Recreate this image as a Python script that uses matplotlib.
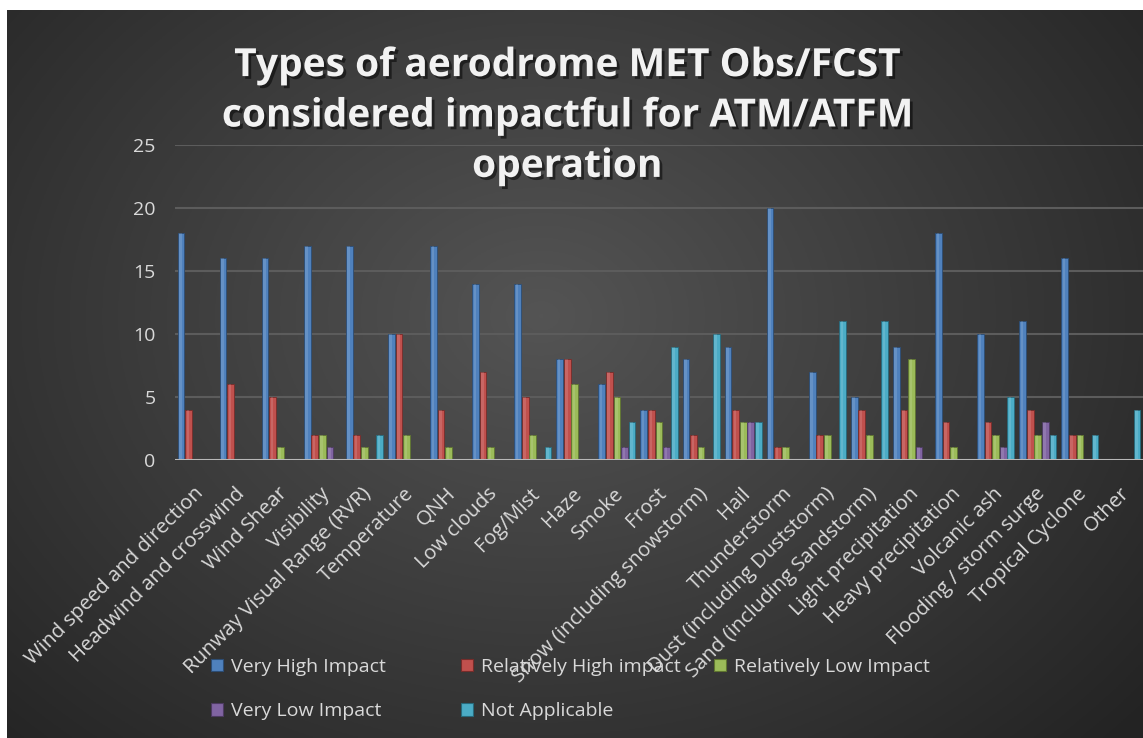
import numpy as np
import matplotlib
matplotlib.use("Agg")
import matplotlib.pyplot as plt
import matplotlib.patheffects as pe
import matplotlib.transforms as mtransforms
from matplotlib.patches import Patch

plt.rcParams['font.family'] = ['Open Sans', 'DejaVu Sans']

categories = ["Wind speed and direction", "Headwind and crosswind", "Wind Shear", "Visibility",
              "Runway Visual Range (RVR)", "Temperature", "QNH", "Low clouds", "Fog/Mist", "Haze",
              "Smoke", "Frost", "Snow (including snowstorm)", "Hail", "Thunderstorm",
              "Dust (including Duststorm)", "Sand (including Sandstorm)", "Light precipitation",
              "Heavy precipitation", "Volcanic ash", "Flooding / storm surge", "Tropical Cyclone", "Other"]

very_high = [18, 16, 16, 17, 17, 10, 17, 14, 14, 8, 6, 4, 8, 9, 20, 7, 5, 9, 18, 10, 11, 16, 0]
rel_high = [4, 6, 5, 2, 2, 10, 4, 7, 5, 8, 7, 4, 2, 4, 1, 2, 4, 4, 3, 3, 4, 2, 0]
rel_low = [0, 0, 1, 2, 1, 2, 1, 1, 2, 6, 5, 3, 1, 3, 1, 2, 2, 8, 1, 2, 2, 2, 0]
very_low = [0, 0, 0, 1, 0, 0, 0, 0, 0, 0, 1, 1, 0, 3, 0, 0, 0, 1, 0, 1, 3, 0, 0]
not_app = [0, 0, 0, 0, 2, 0, 0, 0, 1, 0, 3, 9, 10, 3, 0, 11, 11, 0, 0, 5, 2, 2, 4]

series_names = ["Very High Impact", "Relatively High impact", "Relatively Low Impact",
                "Very Low Impact", "Not Applicable"]
series_vals = [very_high, rel_high, rel_low, very_low, not_app]
colors = ["#4f81bd", "#c0504d", "#9bbb59", "#8064a2", "#4bacc6"]
edges = ["#2c4d75", "#772c2a", "#5f7530", "#4d3b62", "#276a7c"]

W, H = 1143, 738
fig = plt.figure(figsize=(W / 100, H / 100), dpi=100)
fig.patch.set_facecolor("white")

# dark radial background, white strip on top and left like the screenshot
bg = fig.add_axes([7 / W, 0, 1 - 7 / W, 1 - 10 / H])
yy, xx = np.mgrid[0:1:300j, 0:1:460j]
r = np.sqrt(((xx - 0.47) * 1.1) ** 2 + ((yy - 0.42) * 0.9) ** 2)
shade = np.clip(0.33 - 0.25 * r, 0.14, 0.34)
bg.imshow(np.dstack([shade] * 3), aspect="auto", extent=[0, 1, 0, 1], origin="upper")
bg.set_axis_off()

ax = fig.add_axes([175 / W, 1 - 460 / H, 968 / W, (460 - 145) / H])
ax.set_facecolor("none")

x = np.arange(len(categories))
step = 0.18
bw = 0.16
for k, (vals, c, ec) in enumerate(zip(series_vals, colors, edges)):
    ax.bar(x + (k - 2) * step, vals, width=bw, color=c, edgecolor=ec, linewidth=0.6, zorder=3)
    # soft highlight to hint at the bevelled excel bars
    ax.bar(x + (k - 2) * step - 0.015, vals, width=0.06, color="white", alpha=0.13,
           linewidth=0, zorder=3.5)

ax.set_xlim(-0.5, len(categories) - 0.5)
ax.set_ylim(0, 25)
ax.set_yticks(np.arange(0, 26, 5))
ax.yaxis.grid(True, color="#5c5c5c", linewidth=1.5, zorder=0)
ax.set_axisbelow(True)
for s in ["top", "right", "left", "bottom"]:
    ax.spines[s].set_visible(False)
ax.axhline(0, color="#b8b8b8", linewidth=2.2, zorder=4)
ax.tick_params(axis="y", length=0, colors="#d9d9d9", labelsize=14, pad=14)
ax.tick_params(axis="x", length=0, colors="#d9d9d9", labelsize=14.7, pad=17)
ax.set_xticks(x)
ax.set_xticklabels(categories, rotation=45, ha="right", va="top", rotation_mode="anchor")
shift = mtransforms.ScaledTranslation(-3 / 100, 0, fig.dpi_scale_trans)
for lbl in ax.get_xticklabels():
    lbl.set_color("#d9d9d9")
    lbl.set_transform(lbl.get_transform() + shift)

fig.text(567 / W, 1 - 116 / H,
         "Types of aerodrome MET Obs/FCST\nconsidered impactful for ATM/ATFM\noperation",
         ha="center", va="center", fontsize=28, fontweight="bold", color="#f2f2f2",
         linespacing=1.38,
         path_effects=[pe.withSimplePatchShadow(offset=(2, -2), shadow_rgbFace="black", alpha=0.5)])

# legend laid out in Excel-like fixed columns
handles = [Patch(facecolor=c, edgecolor=ec, linewidth=0.8) for c, ec in zip(colors, edges)]
cols = [([0, 3], 211), ([1, 4], 461), ([2], 714)]
for idx, xl in cols:
    leg = fig.legend([handles[i] for i in idx], [series_names[i] for i in idx],
                     loc="upper left", bbox_to_anchor=(xl / W, 1 - 658 / H),
                     frameon=False, fontsize=14, handlelength=0.6, handleheight=0.6,
                     handletextpad=0.45, labelspacing=1.35, borderpad=0, borderaxespad=0)
    for t in leg.get_texts():
        t.set_color("#d9d9d9")

fig.savefig("out.png", dpi=100, facecolor=fig.get_facecolor())
